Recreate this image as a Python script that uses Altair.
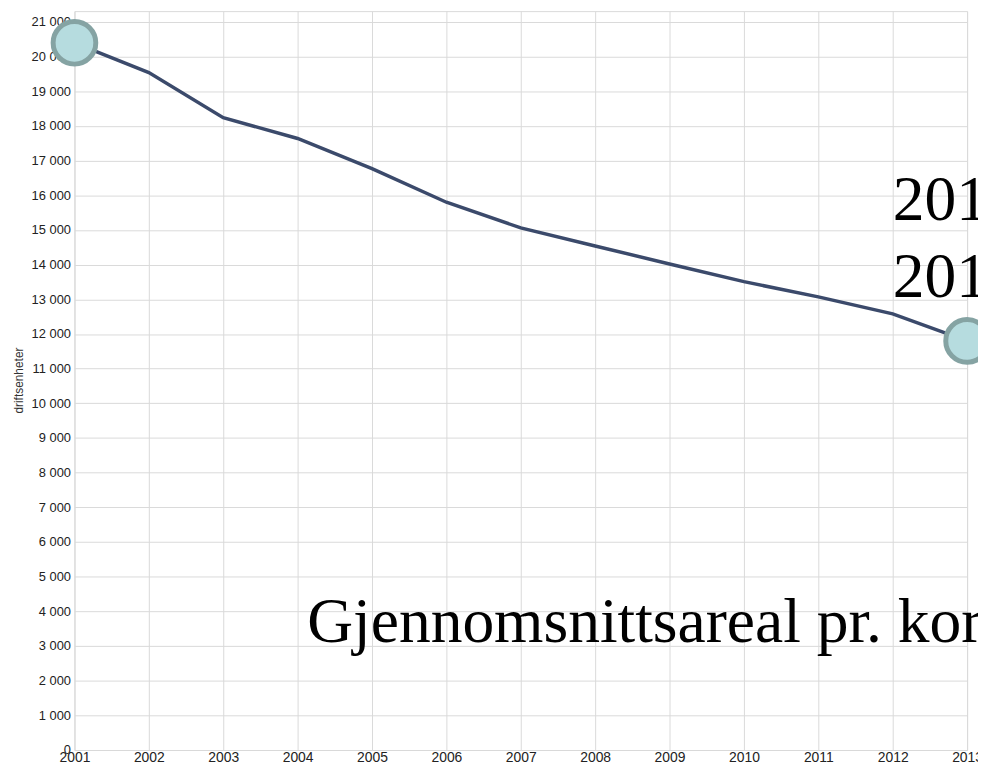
import altair as alt
import pandas as pd

years = [2001, 2002, 2003, 2004, 2005, 2006, 2007, 2008, 2009, 2010, 2011, 2012, 2013]
values = [20400, 19540, 18240, 17640, 16770, 15800, 15060, 14540, 14020, 13510, 13070, 12580, 11800]

marker_years = [2001, 2013]
marker_values = [20400, 11800]

ann_labels = ["201", "201", "Gjennomsnittsareal pr. kor"]
ann_x = [2012.0, 2012.0, 2004.13]
ann_y = [15290, 13070, 3130]

y_ticks = list(range(0, 22000, 1000))

df = pd.DataFrame({"year": years, "value": values})
mk = pd.DataFrame({"year": marker_years, "value": marker_values})
ann = pd.DataFrame({"year": ann_x, "value": ann_y, "label": ann_labels})

xscale = alt.Scale(domain=[2001, 2013], nice=False, zero=False)
yscale = alt.Scale(domain=[0, 21313], nice=False)

xaxis = alt.Axis(values=years, format="d", grid=True, ticks=False, domain=False,
                 labelFont="Liberation Sans", labelFontSize=14, labelColor="#222",
                 labelPadding=1, labelFlush=False, labelOverlap=False,
                 gridColor="#dadada", title=None)
yaxis = alt.Axis(values=y_ticks, grid=True, ticks=False, domain=False,
                 labelExpr="replace(format(datum.value, ','), ',', ' ')",
                 labelFont="Liberation Sans", labelFontSize=13, labelColor="#222",
                 labelPadding=4, labelOverlap=False, gridColor="#dadada",
                 title="driftsenheter", titleFont="Liberation Sans", titleFontSize=12,
                 titleFontWeight="normal", titleColor="#333",
                 titleX=-56, titleY=372, titleAlign="center", titleBaseline="middle", titleAngle=270)

X = alt.X("year:Q", scale=xscale, axis=xaxis)
Y = alt.Y("value:Q", scale=yscale, axis=yaxis)

line = alt.Chart(df).mark_line(color="#3b4a6b", strokeWidth=3.5).encode(x=X, y=Y)

points = alt.Chart(mk).mark_circle(size=1850, color="#b6dcdf", stroke="#85a3a3",
                                   strokeWidth=5, opacity=1).encode(x=X, y=Y)

texts = alt.Chart(ann).mark_text(font="Liberation Serif", fontSize=64, align="left",
                                 baseline="alphabetic", color="#000").encode(
    x=X, y=Y, text="label:N")

chart = alt.layer(line, points, texts).properties(
    width=900, height=745,
    autosize=alt.AutoSizeParams(type="none"),
    padding={"left": 67, "top": 0, "right": 11, "bottom": 19},
    background="white",
).configure_view(stroke="#dadada")

chart.save("out.html", embed_options={"renderer": "svg", "actions": False})
